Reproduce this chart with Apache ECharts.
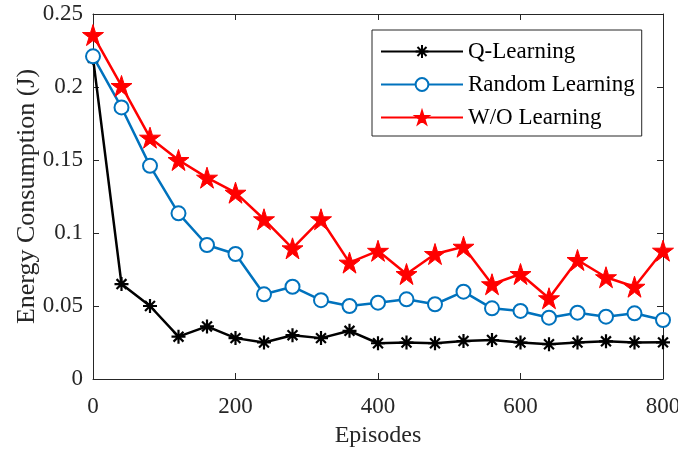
<!DOCTYPE html>
<html>
<head>
<meta charset="utf-8">
<script src="https://cdn.jsdelivr.net/npm/echarts@6/dist/echarts.min.js"></script>
<style>html,body{margin:0;padding:0;background:#fff}#c{width:678px;height:452px}</style>
</head>
<body>
<div id="c"></div>
<script>
const episodes = [0,40,80,120,160,200,240,280,320,360,400,440,480,520,560,600,640,680,720,760,800];
const qLearning = [0.220,0.065,0.050,0.029,0.036,0.028,0.025,0.030,0.028,0.033,0.0245,0.025,0.0245,0.026,0.0267,0.025,0.0238,0.025,0.0258,0.025,0.0251];
const randomLearning = [0.221,0.186,0.146,0.1135,0.0918,0.0856,0.058,0.0632,0.054,0.050,0.0523,0.0546,0.0512,0.0598,0.0484,0.0466,0.042,0.0454,0.0427,0.045,0.0404];
const woLearning = [0.2356,0.2007,0.1653,0.150,0.1379,0.1276,0.1094,0.0895,0.1094,0.0797,0.0878,0.0719,0.0856,0.0906,0.0649,0.0719,0.0553,0.0815,0.0697,0.0632,0.0879];
const seriesNames = ['Q-Learning','Random Learning','W/O Learning'];
const xTicks = [0,200,400,600,800];
const yTicks = [0,0.05,0.1,0.15,0.2,0.25];

const font = 'Liberation Serif';
const axisColor = '#262626';
const pair = arr => episodes.map((e,i)=>[e,arr[i]]);
const starPath = 'path://M0,-50L11.17,-15.37L47.55,-15.45L18.07,5.87L29.39,40.45L0,19L-29.39,40.45L-18.07,5.87L-47.55,-15.45L-11.17,-15.37Z';
const asteriskPath = 'path://M0,-10L0,10M-10,0L10,0M-7.07,-7.07L7.07,7.07M-7.07,7.07L7.07,-7.07';

const chart = echarts.init(document.getElementById('c'), null, {renderer:'canvas'});
const baseX = {
  type:'value', min:0, max:800, interval:200,
  axisLine:{show:true, onZero:false, lineStyle:{color:axisColor, width:1}},
  axisTick:{show:true, inside:true, length:6, lineStyle:{color:axisColor}},
  splitLine:{show:false}
};
const baseY = {
  type:'value', min:0, max:0.25, interval:0.05,
  axisLine:{show:true, onZero:false, lineStyle:{color:axisColor, width:1}},
  axisTick:{show:true, inside:true, length:6, lineStyle:{color:axisColor}},
  splitLine:{show:false}
};
chart.setOption({
  animation:false,
  backgroundColor:'#fff',
  grid:{left:93, right:15, top:14, bottom:73, outerBoundsMode:'none', containLabel:false},
  legend:{
    orient:'vertical', left:372, top:30,
    data:seriesNames,
    backgroundColor:'#fff',
    borderColor:axisColor, borderWidth:1,
    padding:[10,7,7,8],
    itemWidth:82, itemHeight:16, itemGap:10,
    textStyle:{fontFamily:font, fontSize:23, color:'#000'}
  },
  xAxis:[
    Object.assign({}, baseX, {
      position:'bottom',
      name:'Episodes', nameLocation:'middle', nameGap:45, nameMoveOverlap:false,
      nameTextStyle:{fontFamily:font, fontSize:24, color:'#262626'},
      axisLabel:{fontFamily:font, fontSize:23, color:'#262626', margin:16,
        formatter:v=>xTicks.includes(v)?String(v):''}
    }),
    Object.assign({}, baseX, {position:'top', axisLabel:{show:false}})
  ],
  yAxis:[
    Object.assign({}, baseY, {
      position:'left',
      name:'Energy Consumption (J)', nameLocation:'middle', nameGap:53, nameMoveOverlap:false,
      nameTextStyle:{fontFamily:font, fontSize:26, color:'#262626'},
      axisLabel:{fontFamily:font, fontSize:23, color:'#262626', margin:10,
        formatter:v=>{const t=yTicks.find(k=>Math.abs(k-v)<1e-9); return t===undefined?'':String(t);}}
    }),
    Object.assign({}, baseY, {position:'right', axisLabel:{show:false}})
  ],
  series:[
    {
      name:seriesNames[0], type:'line', data:pair(qLearning),
      symbol:asteriskPath, symbolSize:14, showAllSymbol:true,
      lineStyle:{color:'#000', width:2.5},
      itemStyle:{color:'#000', borderColor:'#000', borderWidth:2.2}
    },
    {
      name:seriesNames[1], type:'line', data:pair(randomLearning),
      symbol:'emptyCircle', symbolSize:14, showAllSymbol:true,
      lineStyle:{color:'#0072BD', width:2.5},
      itemStyle:{color:'#0072BD', borderColor:'#0072BD', borderWidth:2.2}
    },
    {
      name:seriesNames[2], type:'line', data:pair(woLearning),
      symbol:starPath, symbolSize:21, showAllSymbol:true,
      lineStyle:{color:'#FF0000', width:2.5},
      itemStyle:{color:'#FF0000', borderColor:'#FF0000', borderWidth:1}
    }
  ]
});
</script>
</body>
</html>
